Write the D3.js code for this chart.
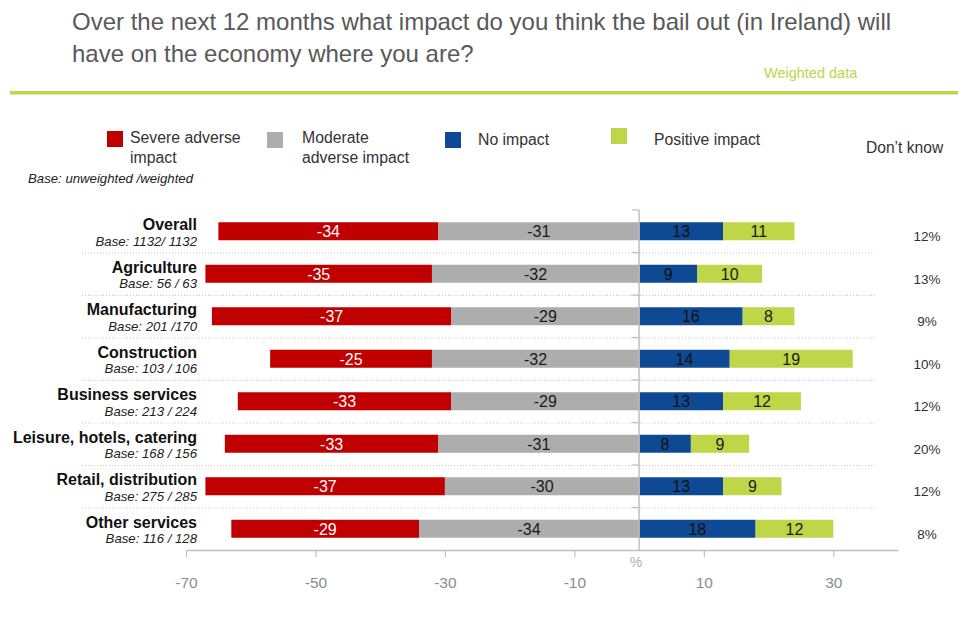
<!DOCTYPE html>
<html>
<head>
<meta charset="utf-8">
<script src="https://cdn.jsdelivr.net/npm/d3@7"></script>
<style>
  html, body { margin: 0; padding: 0; background: #fff; }
  svg { display: block; font-family: "Liberation Sans", Arial, sans-serif; }
</style>
</head>
<body>
<svg id="chart" width="958" height="630"></svg>
<script>
// Survey responses by sector (% of respondents)
const categories = ["Overall", "Agriculture", "Manufacturing", "Construction",
  "Business services", "Leisure, hotels, catering", "Retail, distribution", "Other services"];
const bases = ["Base: 1132/ 1132", "Base: 56 / 63", "Base: 201 /170", "Base: 103 / 106",
  "Base: 213 / 224", "Base: 168 / 156", "Base: 275 / 285", "Base: 116 / 128"];
const severe = [-34, -35, -37, -25, -33, -33, -37, -29];
const moderate = [-31, -32, -29, -32, -29, -31, -30, -34];
const noImpact = [13, 9, 16, 14, 13, 8, 13, 18];
const positive = [11, 10, 8, 19, 12, 9, 9, 12];
const dontKnow = [12, 13, 9, 10, 12, 20, 12, 8];
const xTicks = [-70, -50, -30, -10, 10, 30];

const seriesNames = ["Severe adverse impact", "Moderate adverse impact", "No impact", "Positive impact"];
const colors = ["#c00000", "#adadad", "#0d4a93", "#bed647"];
const labelColors = ["#ffffff", "#1a1a1a", "#111111", "#1a1a1a"];

const svg = d3.select("#chart");

// Title and header
svg.append("text").attr("x", 72).attr("y", 30).attr("font-size", 24).attr("fill", "#595959")
  .text("Over the next 12 months what impact do you think the bail out (in Ireland) will");
svg.append("text").attr("x", 72).attr("y", 62).attr("font-size", 24).attr("fill", "#595959")
  .text("have on the economy where you are?");
svg.append("text").attr("x", 764).attr("y", 78).attr("font-size", 14.5).attr("fill", "#bcd64a")
  .text("Weighted data");
svg.append("rect").attr("x", 10).attr("y", 91).attr("width", 948).attr("height", 3.5).attr("fill", "#bcd64a");

// Legend
const legend = [
  { sx: 107, sy: 131, tx: 130, lines: ["Severe adverse", "impact"], ty: 143 },
  { sx: 267, sy: 132, tx: 302, lines: ["Moderate", "adverse impact"], ty: 143 },
  { sx: 445, sy: 132, tx: 478, lines: ["No impact"], ty: 145 },
  { sx: 611, sy: 128, tx: 654, lines: ["Positive impact"], ty: 145 }
];
legend.forEach((d, i) => {
  svg.append("rect").attr("x", d.sx).attr("y", d.sy).attr("width", 16).attr("height", 16).attr("fill", colors[i]);
  const t = svg.append("text").attr("x", d.tx).attr("y", d.ty).attr("font-size", 15.8).attr("fill", "#333");
  d.lines.forEach((l, j) => t.append("tspan").attr("x", d.tx).attr("dy", j ? 20 : 0).text(l));
});
svg.append("text").attr("x", 866).attr("y", 153).attr("font-size", 15.6).attr("fill", "#333").text("Don\u2019t know");
svg.append("text").attr("x", 193).attr("y", 183).attr("font-size", 13.2).attr("font-style", "italic")
  .attr("text-anchor", "end").attr("fill", "#222").text("Base: unweighted /weighted");

// Scales
const x = d3.scaleLinear().domain([-70, 40]).range([186, 898]);
const y = d3.scaleBand().domain(categories).range([210, 550]).padding(0);
const bw = y.bandwidth();
const barH = 18;

// Dotted row separators
const seps = categories.slice(1);
svg.append("g").selectAll("line").data(seps).join("line")
  .attr("x1", 82).attr("x2", 876)
  .attr("y1", d => y(d) + 0.5).attr("y2", d => y(d) + 0.5)
  .attr("stroke", "#c8c8c8").attr("stroke-width", 1).attr("stroke-dasharray", "1,2");

// Stacked segments
const rows = categories.map((c, i) => {
  const segs = [
    { v: severe[i], x0: moderate[i] + severe[i], x1: moderate[i] },
    { v: moderate[i], x0: moderate[i], x1: 0 },
    { v: noImpact[i], x0: 0, x1: noImpact[i] },
    { v: positive[i], x0: noImpact[i], x1: noImpact[i] + positive[i] }
  ];
  return { c, segs };
});

const rowG = svg.append("g").selectAll("g").data(rows).join("g")
  .attr("transform", d => `translate(0,${y(d.c) + (bw - barH) / 2})`);

rowG.selectAll("rect").data(d => d.segs).join("rect")
  .attr("x", d => x(d.x0)).attr("width", d => x(d.x1) - x(d.x0))
  .attr("y", 0).attr("height", barH)
  .attr("fill", (d, i) => colors[i]);

rowG.selectAll("text").data(d => d.segs).join("text")
  .attr("x", d => (x(d.x0) + x(d.x1)) / 2).attr("y", barH / 2 + 6)
  .attr("text-anchor", "middle").attr("font-size", 16)
  .attr("fill", (d, i) => labelColors[i])
  .text(d => d.v);

// Category labels
const catG = svg.append("g").selectAll("g").data(categories).join("g");
catG.append("text").attr("x", 197).attr("y", d => y(d) + bw / 2 - 1)
  .attr("text-anchor", "end").attr("font-size", 16).attr("font-weight", "bold").attr("fill", "#111")
  .text(d => d);
catG.append("text").attr("x", 197).attr("y", d => y(d) + bw / 2 + 14.5)
  .attr("text-anchor", "end").attr("font-size", 13.2).attr("font-style", "italic").attr("fill", "#222")
  .text((d, i) => bases[i]);

// Don't know column
svg.append("g").selectAll("text").data(categories).join("text")
  .attr("x", 927).attr("y", d => y(d) + bw / 2 + 10)
  .attr("text-anchor", "middle").attr("font-size", 13.5).attr("fill", "#333")
  .text((d, i) => dontKnow[i] + "%");

// Category axis at zero
const yAxis = svg.append("g").attr("transform", `translate(${x(0)},0)`)
  .call(d3.axisLeft(y).tickValues(categories).tickFormat("").tickSize(0));
yAxis.select(".domain").remove();
yAxis.append("line").attr("x1", 0).attr("x2", 0).attr("y1", 210).attr("y2", 550)
  .attr("stroke", "#bfbfbf").attr("stroke-width", 1.5);
yAxis.selectAll(".bd").data(categories).join("line").attr("class", "bd")
  .attr("x1", -7).attr("x2", 0).attr("y1", d => y(d)).attr("y2", d => y(d))
  .attr("stroke", "#bfbfbf").attr("stroke-width", 1.2);

// Value axis
const xAxis = svg.append("g").attr("transform", "translate(0,550)")
  .call(d3.axisBottom(x).tickValues(xTicks).tickSize(7).tickPadding(20).tickSizeOuter(0)
    .tickFormat(d => String(d)));
xAxis.select(".domain").attr("stroke", "#bfbfbf").attr("stroke-width", 1.5);
xAxis.selectAll(".tick line").attr("stroke", "#bfbfbf").attr("stroke-width", 1.2);
xAxis.selectAll(".tick text").attr("font-size", 15.5).attr("fill", "#8c8c8c")
  .attr("font-family", "Liberation Sans, Arial, sans-serif");
svg.append("text").attr("x", x(0) - 3).attr("y", 567).attr("text-anchor", "middle")
  .attr("font-size", 14).attr("fill", "#b0b0b0").text("%");
</script>
</body>
</html>
